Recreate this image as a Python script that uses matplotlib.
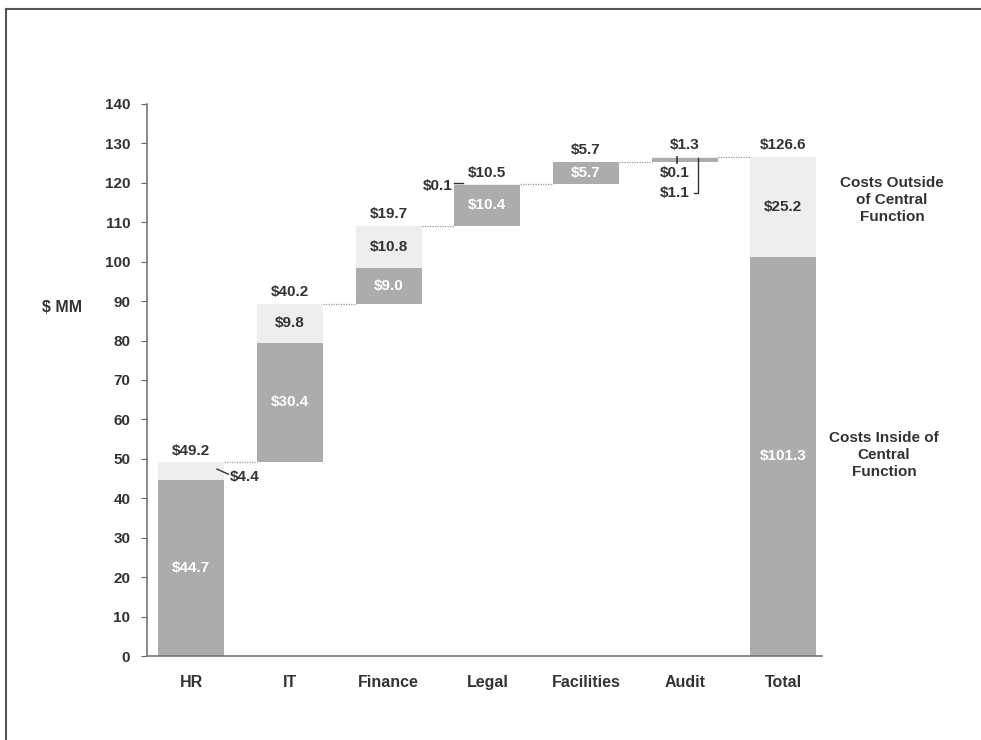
import matplotlib.pyplot as plt
import numpy as np

# Costes por departamento ($ MM): dentro y fuera de la función central
categorias = ["HR", "IT", "Finance", "Legal", "Facilities", "Audit", "Total"]
dentro = [44.7, 30.4, 9.0, 10.4, 5.7, 1.1, 101.3]
fuera = [4.4, 9.8, 10.8, 0.1, 0.0, 0.1, 25.2]
totales = [49.2, 40.2, 19.7, 10.5, 5.7, 1.3, 126.6]

plt.rcParams['font.family'] = ['Liberation Sans', 'DejaVu Sans']
texto = "#333333"
oscuro = "#acacac"
claro = "#eeeeee"
fs = 11

fig = plt.figure(figsize=(9.81, 7.4), dpi=100)
ax = fig.add_axes([0.1498, 0.1135, 0.688, 0.746])

x = np.arange(len(categorias))
ancho = 0.67
dentro_a = np.array(dentro)
fuera_a = np.array(fuera)

# base de cada barra en cascada; la última (Total) empieza en cero
acumulado = np.cumsum(dentro_a[:-1] + fuera_a[:-1])
base = np.concatenate([[0], acumulado[:-1], [0]])

ax.bar(x, dentro_a, ancho, bottom=base, color=oscuro, edgecolor="none")
ax.bar(x, fuera_a, ancho, bottom=base + dentro_a, color=claro, edgecolor="none")

# líneas punteadas entre barras
techo = base + dentro_a + fuera_a
for i in range(len(categorias) - 1):
    ax.plot([x[i] + ancho / 2, x[i + 1] - ancho / 2], [techo[i], techo[i]],
            ls=(0, (1, 1)), color="#999999", lw=0.9)

negrita = dict(fontweight="bold", fontsize=fs, color=texto, ha="center", va="center")

# totales encima de cada barra
for i, t in enumerate(totales):
    ax.text(x[i], techo[i] + 3.0, f"${t:.1f}", **negrita)

# valores dentro (en blanco) sobre la parte oscura
for i in [0, 1, 2, 3, 4, 6]:
    ax.text(x[i], base[i] + dentro[i] / 2, f"${dentro[i]:.1f}",
            fontweight="bold", fontsize=fs, color="white", ha="center", va="center")

# valores fuera dentro de la parte clara
for i in [1, 2, 6]:
    ax.text(x[i], base[i] + dentro[i] + fuera[i] / 2, f"${fuera[i]:.1f}", **negrita)

# HR: etiqueta con guía a la derecha
ax.plot([x[0] + 0.26, x[0] + 0.375], [47.4, 46.1], color=texto, lw=1)
ax.text(x[0] + 0.39, 45.4, f"${fuera[0]:.1f}", fontweight="bold", fontsize=fs,
        color=texto, ha="left", va="center")

# Legal: etiqueta con guía a la izquierda
ax.plot([x[3] - 0.334, x[3] - 0.245], [119.9, 119.9], color=texto, lw=1)
ax.text(x[3] - 0.355, 119.3, f"${fuera[3]:.1f}", fontweight="bold", fontsize=fs,
        color=texto, ha="right", va="center")

# Audit: corchete para los dos valores pequeños
ax.plot([x[5] - 0.08, x[5] - 0.08], [126.6, 125.0], color=texto, lw=1.2)
ax.plot([x[5] + 0.13, x[5] + 0.13, x[5] + 0.09], [126.4, 117.3, 117.3], color=texto, lw=1)
ax.text(x[5] + 0.045, 122.5, f"${fuera[5]:.1f}", fontweight="bold", fontsize=fs,
        color=texto, ha="right", va="center")
ax.text(x[5] + 0.045, 117.3, f"${dentro[5]:.1f}", fontweight="bold", fontsize=fs,
        color=texto, ha="right", va="center")

# leyenda como texto a la derecha
ax.text(7.10, 115.6, "Costs Outside\nof Central\nFunction", fontweight="bold", fontsize=fs,
        color=texto, ha="center", va="center", linespacing=1.25, clip_on=False)
ax.text(7.02, 51.0, "Costs Inside of\nCentral\nFunction", fontweight="bold", fontsize=fs,
        color=texto, ha="center", va="center", linespacing=1.25, clip_on=False)

ax.set_xlim(-0.45, 6.39)
ax.set_ylim(0, 140)
ax.set_yticks(np.arange(0, 141, 10))
ax.set_xticks(x)
ax.set_xticklabels(categorias)
ax.tick_params(axis="x", length=0, pad=14)
ax.tick_params(axis="y", length=4, color="#666666", pad=8)
for lab in ax.get_xticklabels():
    lab.set_fontweight("bold")
    lab.set_fontsize(11.5)
    lab.set_color(texto)
for lab in ax.get_yticklabels():
    lab.set_fontweight("bold")
    lab.set_fontsize(11)
    lab.set_color(texto)
for s in ["top", "right"]:
    ax.spines[s].set_visible(False)
for s in ["left", "bottom"]:
    ax.spines[s].set_color("#777777")
    ax.spines[s].set_linewidth(1.2)

fig.text(0.063, 0.584, "$ MM", fontweight="bold", fontsize=11.5, color=texto,
         ha="center", va="center")

# marco exterior (arriba e izquierda)
fig.add_artist(plt.Line2D([0.006, 1.0], [0.988, 0.988], color="#555555", lw=1.5))
fig.add_artist(plt.Line2D([0.006, 0.006], [0.0, 0.988], color="#555555", lw=1.5))

fig.savefig("out.png", dpi=100)
